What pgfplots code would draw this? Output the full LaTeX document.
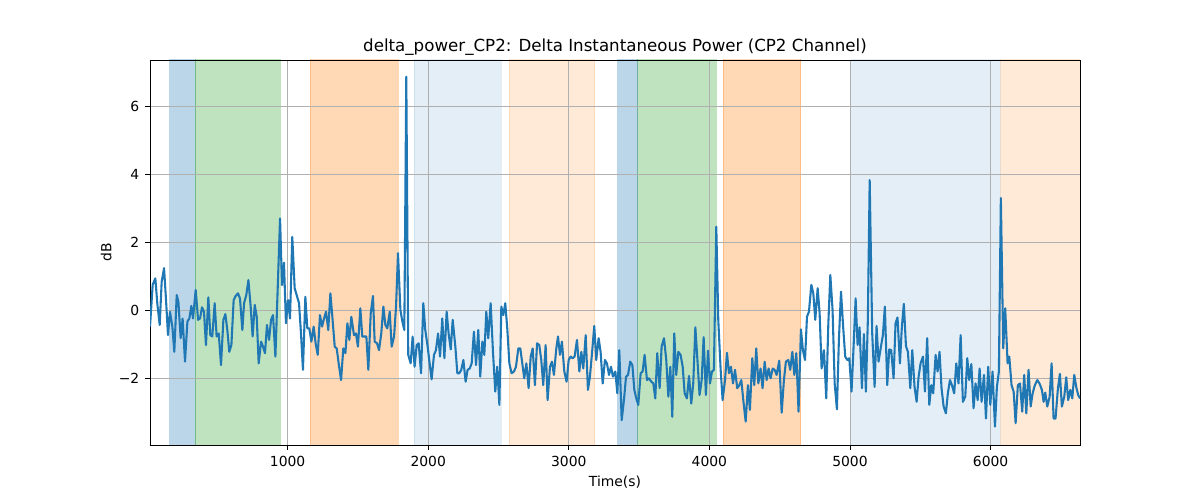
\documentclass[border=0pt]{standalone}
\usepackage{fontspec}
\setmainfont{DejaVu Sans}
\usepackage{pgfplots}
\pgfplotsset{compat=1.18}
\definecolor{tabblue}{HTML}{1F77B4}
\definecolor{taborange}{HTML}{FF7F0E}
\definecolor{tabgreen}{HTML}{2CA02C}
\definecolor{gridgray}{HTML}{B0B0B0}
\begin{document}
\begin{tikzpicture}
\begin{axis}[
  set layers, clip mode=individual,
  at={(0,0)}, anchor=south west,
  scale only axis, width=558pt, height=231pt,
  xmin=21, xmax=6636, ymin=-3.96, ymax=7.36,
  xtick={1000,2000,3000,4000,5000,6000},
  xticklabels={1000,2000,3000,4000,5000,6000},
  ytick={-2,0,2,4,6},
  yticklabels={−2,0,2,4,6},
  xtick pos=bottom, ytick pos=left,
  tick align=outside, major tick length=2.9pt,
  every tick/.style={black, line width=0.48pt},
  tick label style={font=\fontsize{8.33}{10}\selectfont},
  grid=major, grid style={gridgray, line width=0.48pt},
  axis line style={black, line width=0.48pt},
  title={delta\_power\_CP2: Delta Instantaneous Power (CP2 Channel)},
  title style={font=\fontsize{10}{12}\selectfont, yshift=-7pt},
  xlabel={Time(s)}, ylabel={dB},
  xlabel shift=-1pt, ylabel shift=-2.5pt,
  label style={font=\fontsize{8.33}{10}\selectfont},
]
\pgfplotsset{region/.style={fill=#1, draw=#1, line width=0.6pt, on layer=axis background}}
\addplot[region=tabblue, fill opacity=0.3, draw opacity=0.3] coordinates {(160,-10) (342,-10) (342,10) (160,10)} -- cycle;
\addplot[region=tabgreen, fill opacity=0.3, draw opacity=0.3] coordinates {(342,-10) (946,-10) (946,10) (342,10)} -- cycle;
\addplot[region=taborange, fill opacity=0.3, draw opacity=0.3] coordinates {(1161,-10) (1785,-10) (1785,10) (1161,10)} -- cycle;
\addplot[region=tabblue, fill opacity=0.12, draw opacity=0.12] coordinates {(1901,-10) (2518,-10) (2518,10) (1901,10)} -- cycle;
\addplot[region=taborange, fill opacity=0.16, draw opacity=0.16] coordinates {(2577,-10) (3186,-10) (3186,10) (2577,10)} -- cycle;
\addplot[region=tabblue, fill opacity=0.3, draw opacity=0.3] coordinates {(3347,-10) (3489,-10) (3489,10) (3347,10)} -- cycle;
\addplot[region=tabgreen, fill opacity=0.3, draw opacity=0.3] coordinates {(3489,-10) (4047,-10) (4047,10) (3489,10)} -- cycle;
\addplot[region=taborange, fill opacity=0.3, draw opacity=0.3] coordinates {(4099,-10) (4651,-10) (4651,10) (4099,10)} -- cycle;
\addplot[region=tabblue, fill opacity=0.12, draw opacity=0.12] coordinates {(5007,-10) (6067,-10) (6067,10) (5007,10)} -- cycle;
\addplot[region=taborange, fill opacity=0.16, draw opacity=0.16] coordinates {(6071,-10) (6700,-10) (6700,10) (6071,10)} -- cycle;
\addplot[tabblue, line width=1.25pt, mark=none, line join=round] coordinates {
(21,-0.48) (40,0.75) (59,0.94) (73,0.2) (90,-0.43) (104,0.84) (121,1.24) (135,0.3) (149,-0.73) (163,-0.04) (180,-0.48) (194,-1.22) (211,0.45) (223,0.25) (239,-0.82) (253,-0.24) (270,-1.51) (287,-0.33) (301,-0.24) (315,0.13) (327,-0.24) (346,0.6) (363,-0.28) (377,-0.24) (391,0.09) (405,-0.04) (419,-1.02) (436,0.38) (450,-0.73) (464,-0.77) (481,0.21) (495,-0.77) (510,-0.68) (526,-1.61) (543,-0.28) (557,-0.11) (571,-0.58) (585,-1.22) (600,-1.02) (616,0.3) (630,0.42) (647,0.5) (661,0.35) (678,-0.58) (690,0.21) (706,0.45) (721,0.89) (737,0.11) (751,-0.77)
(766,0.16) (780,-0.19) (794,-1.56) (811,-0.92) (825,-1.07) (839,-1.26) (853,-0.43) (868,-0.87) (882,-0.28) (896,-0.14) (913,-1.36) (946,2.7) (960,0.74) (974,1.4) (988,-0.38) (1003,0.3) (1017,-0.24) (1033,2.16) (1050,0.65) (1064,0.45) (1081,0.21) (1095,-0.68) (1109,-1.75) (1126,0.4) (1140,-0.53) (1154,-0.53) (1169,-0.92) (1185,-0.48) (1199,-0.97) (1214,-1.31) (1230,-0.14) (1245,-0.48) (1259,-0.24) (1273,-0.04) (1289,-0.58) (1304,0.5) (1318,-0.19) (1335,-1.07) (1349,-1.12) (1363,-1.56) (1380,-2.05) (1396,-1.12) (1411,-1.26) (1425,-0.38) (1439,-0.87) (1453,-0.19)
(1472,-0.73) (1486,-0.68) (1500,-1.07) (1517,0.06) (1531,-0.77) (1548,-0.77) (1560,-0.77) (1574,-1.75) (1591,-0.09) (1607,0.42) (1619,-0.92) (1636,-0.97) (1650,-1.17) (1666,-0.68) (1681,0.11) (1695,-0.43) (1709,-0.53) (1726,-0.04) (1740,-1.07) (1757,-0.77) (1771,0.11) (1785,1.68) (1802,0.01) (1816,-0.33) (1830,-0.58) (1844,6.87) (1858,-1.31) (1875,-1.56) (1889,-0.77) (1903,-1.66) (1918,-1.02) (1932,-0.97) (1949,-1.85) (1965,0.21) (1979,-0.58) (1996,-1.07) (2010,-1.56) (2024,-2.03) (2041,-1.31) (2055,-1.17) (2070,-0.68) (2084,-1.36) (2100,-0.24) (2115,-1.41) (2131,-0.04) (2145,-0.68) (2160,-1.15) (2174,-0.28)
(2193,-1.07) (2207,-1.85) (2221,-1.85) (2235,-1.75) (2250,-1.46) (2266,-2.1) (2280,-1.75) (2295,-1.71) (2309,-1.56) (2325,-0.63) (2340,-1.61) (2356,-0.58) (2370,-1.95) (2385,-0.92) (2399,-1.31) (2413,-0.04) (2427,-0.82) (2444,0.21) (2461,-1.26) (2477,-2.39) (2491,-1.66) (2506,-2.78) (2520,0.11) (2534,-0.14) (2548,0.21) (2563,-0.58) (2577,-1.56) (2593,-1.85) (2610,-1.8) (2624,-1.66) (2641,-1.12) (2655,-1.12) (2669,-1.56) (2683,-2.0) (2698,-1.56) (2714,-2.29) (2729,-1.36) (2743,-1.12) (2759,-2.2) (2774,-0.97) (2790,-1.02) (2804,-1.46) (2818,-2.2) (2835,-1.02) (2849,-2.64) (2866,-1.66) (2880,-1.51) (2894,-1.9) (2911,-1.12)
(2923,-0.77) (2937,-1.31) (2951,-0.92) (2968,-1.8) (2984,-2.1) (2999,-1.46) (3013,-1.36) (3027,-1.41) (3041,-1.36) (3058,-0.87) (3075,-1.8) (3089,-1.22) (3103,-1.71) (3120,-0.73) (3136,-2.34) (3150,-1.95) (3165,-1.26) (3181,-0.46) (3195,-1.46) (3212,-0.82) (3226,-1.22) (3241,-2.15) (3257,-1.46) (3271,-1.56) (3286,-1.9) (3300,-1.66) (3314,-1.95) (3331,-1.8) (3345,-2.44) (3359,-1.17) (3376,-3.23) (3392,-2.64) (3407,-1.95) (3421,-1.9) (3437,-1.51) (3452,-1.61) (3466,-2.34) (3480,-2.59) (3494,-2.78) (3511,-1.85) (3525,-1.8) (3539,-1.31) (3556,-2.05) (3570,-2.0) (3587,-2.1) (3601,-2.15) (3615,-2.59) (3629,-1.26)
(3646,-2.29) (3660,-1.07) (3677,-0.82) (3693,-1.46) (3708,-2.54) (3722,-1.66) (3736,-3.13) (3750,-0.68) (3764,-1.9) (3779,-1.22) (3795,-1.31) (3810,-1.66) (3824,-2.44) (3840,-2.59) (3855,-1.93) (3871,-2.74) (3885,-2.15) (3900,-0.5) (3914,-1.41) (3930,-2.49) (3945,-2.05) (3959,-0.79) (3975,-2.49) (3990,-1.19) (4004,-2.15) (4018,-1.8) (4032,-1.75) (4049,2.46) (4063,-0.28) (4080,-1.75) (4094,-2.64) (4111,-2.05) (4125,-1.25) (4139,-1.85) (4153,-1.66) (4168,-2.15) (4182,-1.75) (4198,-2.29) (4213,-2.2) (4227,-2.05) (4241,-2.64) (4258,-3.27) (4274,-2.2) (4288,-2.93) (4305,-1.41) (4319,-2.2) (4333,-1.12) (4348,-2.15) (4364,-1.71)
(4378,-2.29) (4393,-1.51) (4407,-2.05) (4421,-1.71) (4435,-2.0) (4450,-1.71) (4464,-1.75) (4478,-1.9) (4497,-1.48) (4514,-3.01) (4530,-2.05) (4544,-1.51) (4561,-1.46) (4575,-1.75) (4590,-1.22) (4604,-1.9) (4618,-1.26) (4634,-2.98) (4651,-0.56) (4665,-1.17) (4680,-1.46) (4694,-0.19) (4708,-0.04) (4725,0.75) (4739,0.5) (4753,-0.28) (4770,0.65) (4784,-0.09) (4798,-1.71) (4815,-1.17) (4831,-2.59) (4846,-0.38) (4860,1.04) (4876,0.01) (4891,-2.15) (4907,-2.91) (4921,-0.87) (4936,0.55) (4952,-0.53) (4966,-1.36) (4981,-1.46) (4995,-1.41) (5011,-2.39) (5026,-1.02) (5040,0.35) (5054,-1.02) (5068,-0.5)
(5085,-2.29) (5099,-0.7) (5113,-2.39) (5127,-0.28) (5140,3.83) (5158,-0.68) (5175,-2.25) (5189,-0.46) (5203,-1.51) (5220,-1.07) (5234,-0.73) (5248,0.11) (5265,-2.2) (5279,-1.15) (5293,-1.17) (5310,-2.0) (5324,-0.38) (5338,-0.21) (5355,-1.56) (5369,-0.48) (5383,0.19) (5398,-1.05) (5412,-1.22) (5429,-2.29) (5443,-1.17) (5459,-2.25) (5474,-2.69) (5488,-1.95) (5502,-1.56) (5519,-1.36) (5533,-2.39) (5549,-0.82) (5564,-2.78) (5578,-2.2) (5592,-2.44) (5609,-1.31) (5623,-1.8) (5637,-1.22) (5651,-2.29) (5666,-2.83) (5682,-3.03) (5696,-2.44) (5711,-2.05) (5725,-2.2) (5741,-2.44) (5756,-1.56) (5772,-2.15) (5787,-0.73) (5803,-2.69)
(5820,-2.54) (5834,-1.41) (5848,-2.05) (5863,-1.58) (5879,-2.88) (5893,-2.15) (5908,-2.64) (5922,-1.71) (5936,-2.69) (5953,-1.9) (5967,-3.18) (5983,-1.66) (5998,-2.78) (6014,-1.8) (6031,-3.42) (6045,-2.25) (6059,-1.8) (6073,3.3) (6090,-1.12) (6104,0.06) (6121,-1.56) (6133,-1.36) (6149,-2.2) (6164,-2.39) (6178,-3.32) (6194,-2.2) (6209,-2.15) (6225,-2.98) (6239,-1.9) (6254,-3.03) (6270,-1.75) (6285,-2.83) (6299,-2.44) (6315,-2.2) (6332,-2.05) (6348,-2.15) (6365,-2.34) (6377,-2.69) (6389,-2.42) (6403,-2.83) (6420,-2.54) (6434,-1.56) (6448,-3.18) (6462,-3.18) (6479,-2.29) (6493,-1.87) (6507,-2.83) (6524,-2.54) (6538,-1.97) (6552,-2.64) (6567,-2.34) (6581,-2.59) (6595,-1.9) (6609,-2.25) (6623,-2.49) (6636,-2.59)
};
\end{axis}
\pgfresetboundingbox
\path[use as bounding box] (-90pt,-33pt) rectangle (630pt,267pt);
\end{tikzpicture}
\end{document}
